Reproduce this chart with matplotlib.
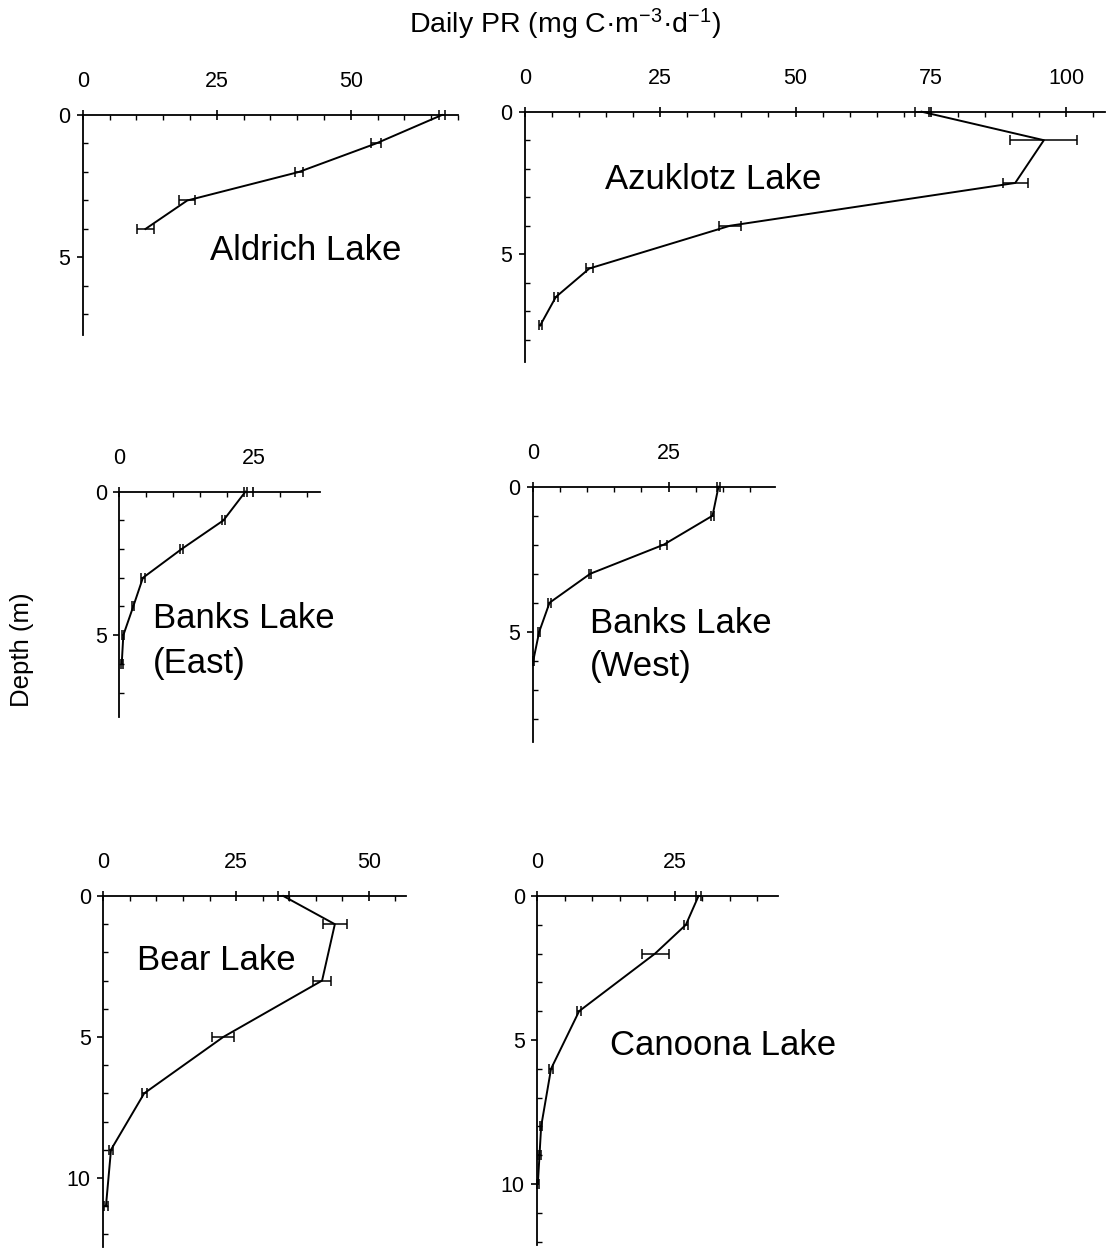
import matplotlib
matplotlib.use("Agg")
import matplotlib.pyplot as plt
from matplotlib.ticker import MultipleLocator

plt.rcParams['font.family'] = ['Liberation Sans', 'DejaVu Sans']
plt.rcParams['mathtext.fontset'] = 'custom'
plt.rcParams['mathtext.rm'] = 'Liberation Sans'
plt.rcParams['mathtext.it'] = 'Liberation Sans:italic'
plt.rcParams['mathtext.bf'] = 'Liberation Sans:bold'

# Depth profiles of daily primary production (mg C m^-3 d^-1), mean +/- error
aldrich_depth = [0, 1, 2, 3, 4]
aldrich_pr = [67.0, 54.7, 40.3, 19.5, 11.7]
aldrich_err = [0.5, 1.0, 0.7, 1.5, 1.6]

azuklotz_depth = [0, 1, 2.5, 4, 5.5, 6.5, 7.5]
azuklotz_pr = [73.3, 95.9, 90.6, 37.9, 11.9, 5.7, 2.8]
azuklotz_err = [1.3, 6.2, 2.3, 2.0, 0.65, 0.4, 0.3]

banks_east_depth = [0, 1, 2, 3, 4, 5, 6]
banks_east_pr = [23.5, 19.4, 11.6, 4.4, 2.6, 0.75, 0.45]
banks_east_err = [0.3, 0.3, 0.3, 0.4, 0.2, 0.2, 0.2]

banks_west_depth = [0, 1, 2, 3, 4, 5, 6]
banks_west_pr = [34.2, 33.1, 24.1, 10.6, 3.1, 1.2, 0.1]
banks_west_err = [0.2, 0.2, 0.6, 0.2, 0.2, 0.2, 0.1]

bear_depth = [0, 1, 3, 5, 7, 9, 11]
bear_pr = [33.9, 43.6, 41.2, 22.6, 7.7, 1.45, 0.5]
bear_err = [1.0, 2.3, 1.7, 2.1, 0.5, 0.3, 0.3]

canoona_depth = [0, 1, 2, 4, 6, 8, 9, 10]
canoona_pr = [29.3, 27.0, 21.4, 7.6, 2.5, 0.7, 0.4, 0.1]
canoona_err = [0.5, 0.3, 2.45, 0.3, 0.3, 0.2, 0.2, 0.2]

lake_names = [["Aldrich Lake"], ["Azuklotz Lake"], ["Banks Lake", "(East)"],
              ["Banks Lake", "(West)"], ["Bear Lake"], ["Canoona Lake"]]

W, H = 1108, 1251
fig = plt.figure(figsize=(W / 100, H / 100), dpi=100)

# Panel layout in pixels: (left, top, right, bottom), axis limits,
# label anchor (x, baseline of first line, line step) in data units
layout = [
    ((82.7, 115, 458, 335), (70.0, 7.72), (23.7, 5.09, 0)),
    ((525, 111.7, 1105, 361.7), (107.2, 8.77), (14.8, 2.72, 0)),
    ((119.3, 491.7, 320, 716.7), (37.4, 7.84), (6.3, 4.76, 1.55)),
    ((532.7, 486.7, 775, 741.7), (44.6, 8.79), (10.6, 5.06, 1.48)),
    ((103.3, 896, 406, 1246.7), (57.0, 12.44), (6.4, 2.62, 0)),
    ((537.3, 896, 778.3, 1245), (43.8, 12.12), (13.2, 5.52, 0)),
]

series = [
    (aldrich_depth, aldrich_pr, aldrich_err),
    (azuklotz_depth, azuklotz_pr, azuklotz_err),
    (banks_east_depth, banks_east_pr, banks_east_err),
    (banks_west_depth, banks_west_pr, banks_west_err),
    (bear_depth, bear_pr, bear_err),
    (canoona_depth, canoona_pr, canoona_err),
]

for (box, lims, lab), (depth, pr, err), lines in zip(layout, series, lake_names):
    l, t, r, b = box
    ax = fig.add_axes([l / W, 1 - b / H, (r - l) / W, (b - t) / H])
    ax.errorbar(pr, depth, xerr=err, color='black', lw=1.4,
                elinewidth=1.1, capsize=3.5, capthick=1.1, clip_on=False)
    ax.set_xlim(0, lims[0])
    ax.set_ylim(lims[1], 0)
    for s in ('right', 'bottom'):
        ax.spines[s].set_visible(False)
    for s in ('left', 'top'):
        ax.spines[s].set_linewidth(1.3)
    ax.xaxis.set_ticks_position('top')
    ax.xaxis.set_major_locator(MultipleLocator(25))
    ax.xaxis.set_minor_locator(MultipleLocator(5))
    ax.yaxis.set_major_locator(MultipleLocator(5))
    ax.yaxis.set_minor_locator(MultipleLocator(1))
    ax.tick_params(axis='x', which='major', direction='inout', length=7,
                   width=1.2, pad=13, labelsize=15.5)
    ax.tick_params(axis='x', which='minor', direction='in', length=3.5,
                   width=1.0)
    ax.tick_params(axis='y', which='major', direction='out', length=4,
                   width=1.2, pad=5, labelsize=15.5)
    ax.tick_params(axis='y', which='minor', direction='in', length=3.5,
                   width=1.0)
    ax.set_facecolor('none')
    x0, y0, step = lab
    for i, line in enumerate(lines):
        ax.text(x0, y0 + i * step, line, fontsize=25, ha='left',
                va='baseline')

fig.text(565 / W, 1 - 33 / H,
         r'Daily PR (mg C·m$^{-3}$·d$^{-1}$)', fontsize=20.5,
         ha='center', va='baseline')
fig.text(22 / W, 1 - 650 / H, 'Depth (m)', fontsize=18.5, rotation=90,
         ha='center', va='center')

fig.savefig('out.png', dpi=100, facecolor='white')
